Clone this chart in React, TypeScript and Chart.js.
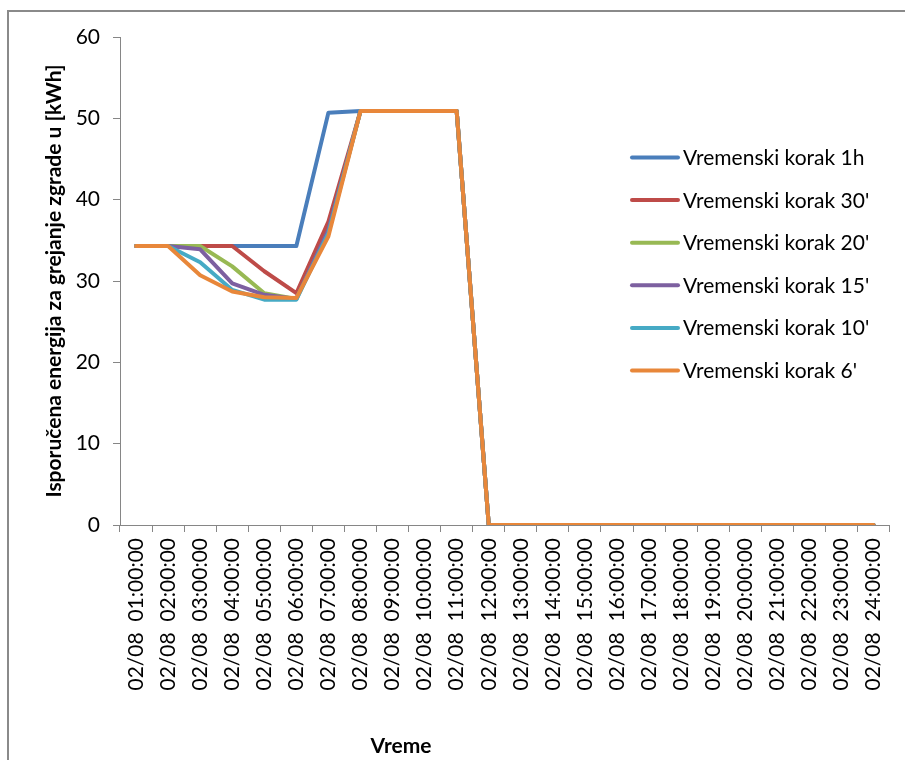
import React, { useEffect, useRef } from "react";
import { Chart, registerables } from "chart.js";

Chart.register(...registerables);

const categories = [
  "02/08  01:00:00", "02/08  02:00:00", "02/08  03:00:00", "02/08  04:00:00",
  "02/08  05:00:00", "02/08  06:00:00", "02/08  07:00:00", "02/08  08:00:00",
  "02/08  09:00:00", "02/08  10:00:00", "02/08  11:00:00", "02/08  12:00:00",
  "02/08  13:00:00", "02/08  14:00:00", "02/08  15:00:00", "02/08  16:00:00",
  "02/08  17:00:00", "02/08  18:00:00", "02/08  19:00:00", "02/08  20:00:00",
  "02/08  21:00:00", "02/08  22:00:00", "02/08  23:00:00", "02/08  24:00:00",
];

const seriesLabels = [
  "Vremenski korak 1h",
  "Vremenski korak 30'",
  "Vremenski korak 20'",
  "Vremenski korak 15'",
  "Vremenski korak 10'",
  "Vremenski korak 6'",
];

const seriesColors = ["#4A7EBB", "#BE4B48", "#98B954", "#7D60A0", "#46AAC5", "#E8873A"];

const step1h = [34.3, 34.3, 34.3, 34.3, 34.3, 34.3, 50.7, 50.9, 50.9, 50.9, 50.9, 0, 0, 0, 0, 0, 0, 0, 0, 0, 0, 0, 0, 0];
const step30 = [34.3, 34.3, 34.3, 34.3, 31.2, 28.5, 37.3, 50.9, 50.9, 50.9, 50.9, 0, 0, 0, 0, 0, 0, 0, 0, 0, 0, 0, 0, 0];
const step20 = [34.3, 34.3, 34.3, 31.8, 28.5, 27.8, 36.1, 50.9, 50.9, 50.9, 50.9, 0, 0, 0, 0, 0, 0, 0, 0, 0, 0, 0, 0, 0];
const step15 = [34.3, 34.3, 33.9, 29.7, 28.3, 27.8, 36.3, 50.9, 50.9, 50.9, 50.9, 0, 0, 0, 0, 0, 0, 0, 0, 0, 0, 0, 0, 0];
const step10 = [34.3, 34.3, 32.3, 28.9, 27.7, 27.7, 35.9, 50.9, 50.9, 50.9, 50.9, 0, 0, 0, 0, 0, 0, 0, 0, 0, 0, 0, 0, 0];
const step6 = [34.3, 34.3, 30.7, 28.7, 28.0, 27.9, 35.5, 50.9, 50.9, 50.9, 50.9, 0, 0, 0, 0, 0, 0, 0, 0, 0, 0, 0, 0, 0];

const seriesValues = [step1h, step30, step20, step15, step10, step6];

const yTitle = "Isporučena energija za grejanje zgrade u [kWh]";
const xTitle = "Vreme";

const FONT = "Lato";
const AXIS_COLOR = "#868686";

const overlayPlugin = {
  id: "overlayLegend",
  afterDraw(chart: any) {
    const ctx = chart.ctx;
    ctx.save();
    const top = 157.5;
    const gap = 42.6;
    chart.data.datasets.forEach((ds: any, i: number) => {
      const y = top + i * gap;
      ctx.strokeStyle = ds.borderColor;
      ctx.lineWidth = 4;
      ctx.lineCap = "round";
      ctx.beginPath();
      ctx.moveTo(632, y);
      ctx.lineTo(678, y);
      ctx.stroke();
      ctx.fillStyle = "#000";
      ctx.font = `21px ${FONT}`;
      ctx.textAlign = "left";
      ctx.textBaseline = "alphabetic";
      ctx.fillText(ds.label, 683, y + 7.5);
    });
    ctx.font = `bold 21px ${FONT}`;
    ctx.textAlign = "center";
    ctx.textBaseline = "middle";
    ctx.fillStyle = "#000";
    ctx.fillText(xTitle, 401, 746);
    ctx.restore();
  },
};

export default function App() {
  const ref = useRef<HTMLCanvasElement>(null);

  useEffect(() => {
    if (!ref.current) return;
    const chart = new Chart(ref.current, {
      type: "line",
      data: {
        labels: categories,
        datasets: seriesValues.map((vals, i) => ({
          label: seriesLabels[i],
          data: vals,
          borderColor: seriesColors[i],
          backgroundColor: seriesColors[i],
          borderWidth: 4,
          pointRadius: 0,
          tension: 0,
          borderJoinStyle: "round" as const,
          borderCapStyle: "round" as const,
          order: seriesValues.length - i,
        })),
      },
      options: {
        responsive: false,
        animation: false,
        devicePixelRatio: 1,
        layout: { padding: { left: 0, top: 37, right: 14, bottom: 0 } },
        plugins: {
          legend: { display: false },
          tooltip: { enabled: false },
        },
        scales: {
          x: {
            type: "category",
            offset: true,
            grid: {
              offset: true,
              drawOnChartArea: false,
              drawTicks: true,
              tickLength: 7,
              color: AXIS_COLOR,
            },
            border: { color: AXIS_COLOR, width: 1 },
            ticks: {
              autoSkip: false,
              maxRotation: 90,
              minRotation: 90,
              color: "#000",
              padding: 6,
              font: { family: FONT, size: 21 },
            },
            afterFit(scale: any) {
              scale.height = 235;
            },
          },
          y: {
            min: 0,
            max: 60,
            ticks: {
              stepSize: 10,
              color: "#000",
              padding: 13,
              font: { family: FONT, size: 21 },
            },
            grid: {
              drawOnChartArea: false,
              drawTicks: true,
              tickLength: 7,
              color: AXIS_COLOR,
            },
            border: { color: AXIS_COLOR, width: 1 },
            title: {
              display: true,
              text: yTitle,
              color: "#000",
              font: { family: FONT, size: 21, weight: "bold" },
              padding: { top: 42, bottom: 0 },
            },
            afterFit(scale: any) {
              scale.width = 120;
            },
          },
        },
      },
      plugins: [overlayPlugin],
    });
    return () => chart.destroy();
  }, []);

  return (
    <div
      style={{
        position: "absolute",
        left: 0,
        top: 0,
        width: 905,
        height: 760,
        overflow: "hidden",
        background: "#fff",
      }}
    >
      <div
        style={{
          position: "absolute",
          left: 7,
          top: 10,
          width: 920,
          height: 780,
          borderLeft: "2px solid #8a8a8a",
          borderTop: "2px solid #8a8a8a",
        }}
      />
      <canvas
        ref={ref}
        width={905}
        height={760}
        style={{ position: "absolute", left: 0, top: 0, width: 905, height: 760 }}
      />
    </div>
  );
}
